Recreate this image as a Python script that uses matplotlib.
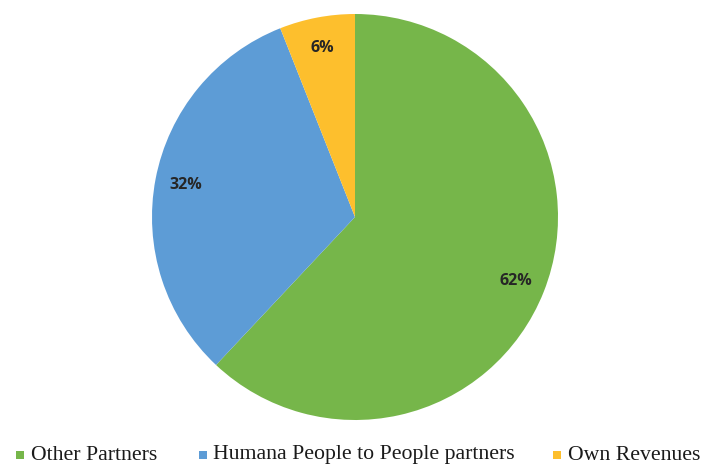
import matplotlib
matplotlib.use("Agg")
import matplotlib.pyplot as plt
from matplotlib.patches import Rectangle

categories = ["Other Partners", "Humana People to People partners", "Own Revenues"]
values = [62, 32, 6]
colors = ["#76B64A", "#5D9CD6", "#FDBF2D"]

fig = plt.figure(figsize=(7.15, 4.66), dpi=100)
cx, cy, r = 355, 217, 203
W, H = 715, 466
ax = fig.add_axes([(cx - r) / W, (H - cy - r) / H, 2 * r / W, 2 * r / H])
wedges, texts, autotexts = ax.pie(
    values, colors=colors, startangle=90, counterclock=False,
    autopct=lambda p: f"{p:.0f}%", pctdistance=0.85,
    wedgeprops=dict(linewidth=0),
    textprops=dict(fontsize=11.5, fontweight="bold", color="#262626", family="Open Sans"),
)
ax.set_xlim(-1, 1)
ax.set_ylim(-1, 1)
ax.set_aspect("equal")
ax.axis("off")

# legend entries (manual placement to mimic the original spacing)
marker_x = [16, 199, 553]
text_x = [31, 213, 568]
ly = 455
ms = 8
for c, lab, mx, tx in zip(colors, categories, marker_x, text_x):
    fig.patches.append(Rectangle((mx / W, (H - ly - ms / 2) / H), ms / W, ms / H,
                                 transform=fig.transFigure, facecolor=c,
                                 edgecolor="none", figure=fig))
    fig.text(tx / W, (H - ly) / H, lab, ha="left", va="center",
             family="Liberation Serif", size=15.7, color="#1a1a1a")

fig.savefig("out.png", dpi=100)
